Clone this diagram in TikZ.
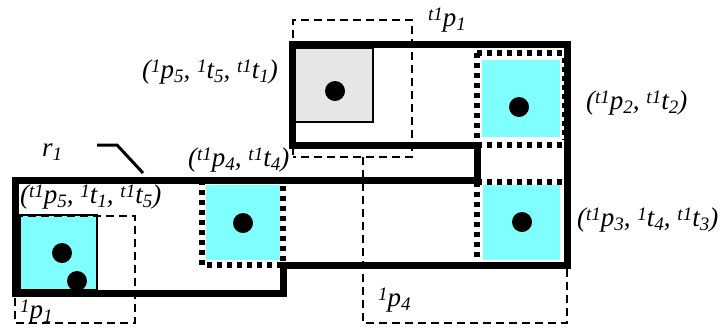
\documentclass[tikz,border=0pt]{standalone}
\usepackage{fontspec}
\setmainfont{Liberation Serif}
\newcommand{\hsup}[1]{\raisebox{0.5ex}{\fontsize{19}{19}\selectfont #1}}
\newcommand{\hsub}[1]{\raisebox{-0.3ex}{\fontsize{19}{19}\selectfont #1}}
\definecolor{cyanfill}{RGB}{128,255,255}
\definecolor{grayfill}{RGB}{230,230,230}
\tikzset{
  wall/.style={line width=7pt, line join=miter},
  thinbox/.style={line width=2pt},
  dashbox/.style={line width=2pt, dash pattern=on 8pt off 5pt},
  dotwall/.style={line width=5.5pt, dash pattern=on 5pt off 5pt},
  token/.style={circle, fill=black, inner sep=0pt, minimum size=20pt},
  lbl/.style={inner sep=0pt, font=\fontsize{27}{27}\selectfont\itshape},
}
\begin{document}
\begin{tikzpicture}[x=1pt,y=-1pt]
\useasboundingbox (0,0) rectangle (727,330);
% cyan / gray boxes
\fill[grayfill] (295,48) rectangle (373,122);
\draw[thinbox] (295,48) rectangle (373,122);
\fill[cyanfill] (482,60) rectangle (560,137);
\fill[cyanfill] (483,185) rectangle (560,260);
\fill[cyanfill] (206,185) rectangle (280,260);
\fill[cyanfill] (20,215) rectangle (97,290);
\draw[thinbox] (20,215) rectangle (97,290);
% dashed places
\draw[dashbox] (293,155) -- (293,20) -- (412,20) -- (412,157) -- (293,157);
\draw[dashbox] (363,157) -- (363,323) -- (567,323) -- (567,265);
\draw[dashbox] (15,216) -- (135,216) -- (135,323) -- (15,323) -- cycle;
% dotted borders
\draw[dotwall] (477,53) -- (565,53);
\draw[dotwall] (477,53) -- (477,145);
\draw[dotwall] (477,145) -- (567,145);
\draw[thinbox, dash pattern=on 5pt off 4pt] (563,58) -- (563,140);
\draw[dotwall] (477,182) -- (565,182);
\draw[dotwall] (477,182) -- (477,265);
\draw[dotwall] (202,180) -- (202,265) -- (283,265) -- (283,180);
% walls
\draw[wall] (292,44) -- (567,44) -- (567,265) -- (283,265) -- (283,293) -- (15,293) -- (15,180) -- (477,180) -- (477,145) -- (292,145) -- cycle;
% tokens
\node[token] (k1) at (335,91) {};
\node[token] (k2) at (519,107) {};
\node[token] (k3) at (522,222) {};
\node[token] (k4) at (243,223) {};
\node[token] (k5) at (62,253) {};
\node[token] (k6) at (77,281) {};
% labels
\node[lbl, anchor=west] (r1) at (42,152) {r\hsub{1}};
\coordinate (c1) at (97,145);
\coordinate (c2) at (117,145);
\coordinate (c3) at (143,173);
\draw[line width=3pt] (c1) -- (c2) -- (c3);
\node[lbl, anchor=west] (l5) at (20,197) {(\hsup{t1}p\hsub{5}, \hsup{1}t\hsub{1}, \hsup{t1}t\hsub{5})};
\node[lbl, anchor=west] (l4) at (188,160) {(\hsup{t1}p\hsub{4}, \hsup{t1}t\hsub{4})};
\node[lbl, anchor=west] (l1) at (142,72) {(\hsup{1}p\hsub{5}, \hsup{1}t\hsub{5}, \hsup{t1}t\hsub{1})};
\node[lbl, anchor=west] (l2) at (586,103) {(\hsup{t1}p\hsub{2}, \hsup{t1}t\hsub{2})};
\node[lbl, anchor=west] (l3) at (577,220) {(\hsup{t1}p\hsub{3}, \hsup{1}t\hsub{4}, \hsup{t1}t\hsub{3})};
\node[lbl, anchor=west] (p1) at (428,20) {\hsup{t1}p\hsub{1}};
\node[lbl, anchor=west] (p4) at (378,300) {\hsup{1}p\hsub{4}};
\node[lbl, anchor=west] (q1) at (20,312) {\hsup{1}p\hsub{1}};
\end{tikzpicture}
\end{document}
